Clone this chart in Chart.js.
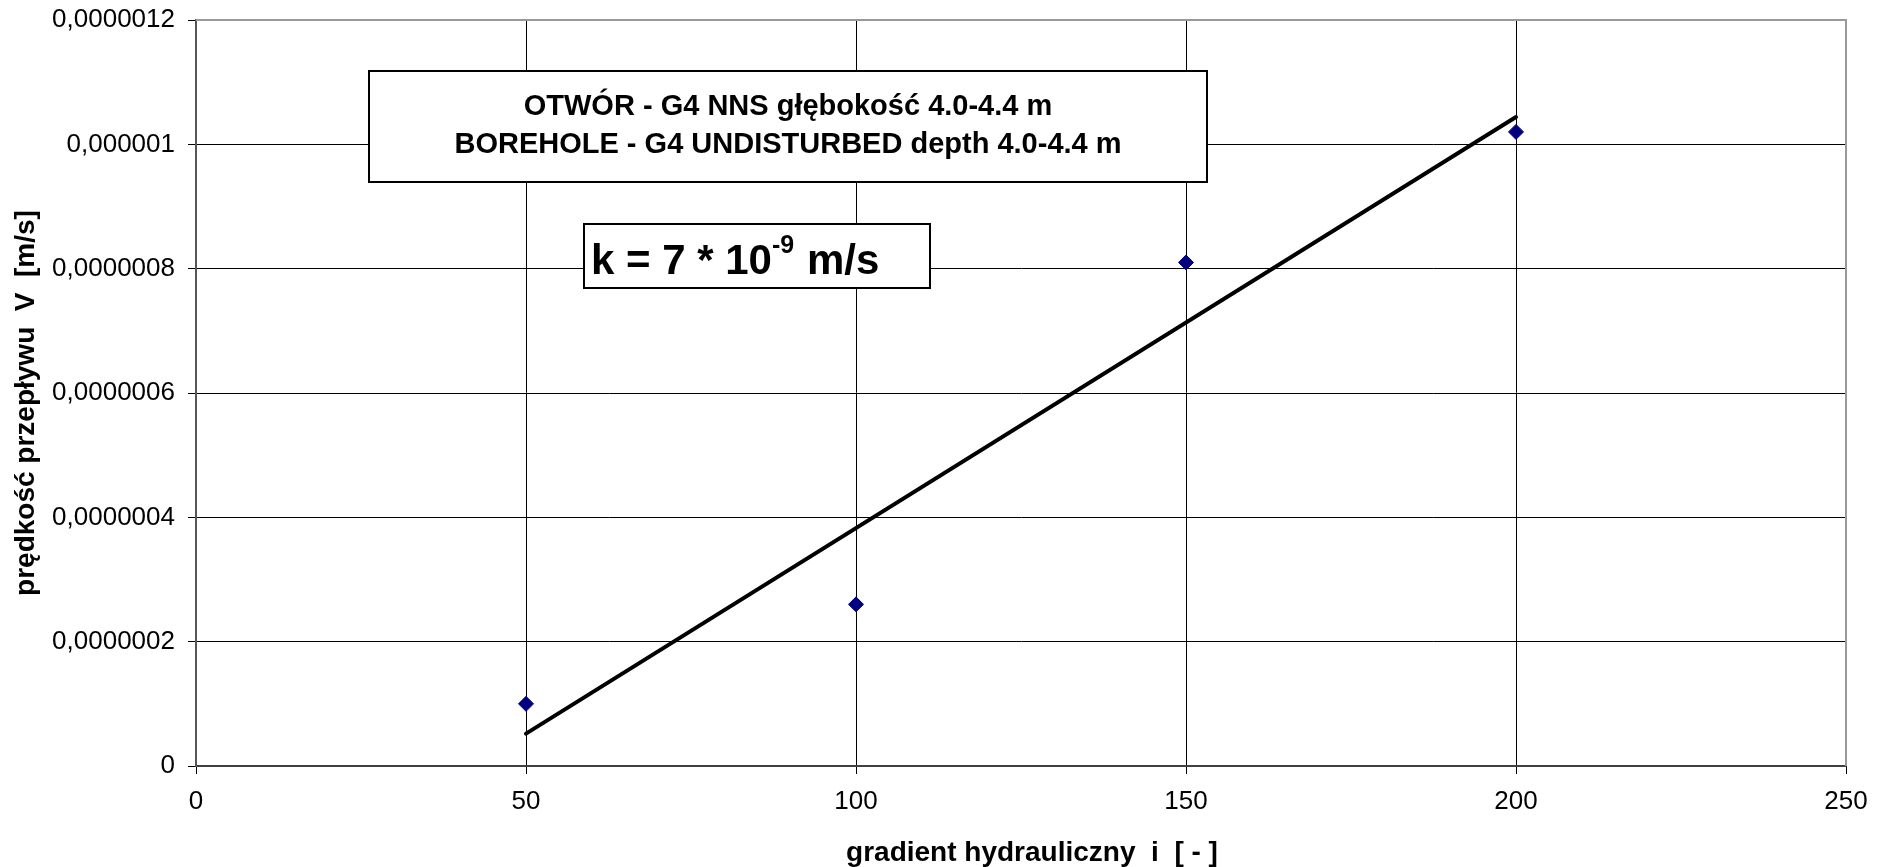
<!DOCTYPE html>
<html>
<head>
<meta charset="utf-8">
<script src="https://cdn.jsdelivr.net/npm/chart.js@4"></script>
<style>
  html, body { margin: 0; padding: 0; background: #fff; }
  canvas { display: block; }
</style>
</head>
<body>
<canvas id="wykres" width="1890" height="867"></canvas>
<script>
const gradient = [50, 100, 150, 200];
const velocity = [1.0e-7, 2.6e-7, 8.1e-7, 1.02e-6];
const trendX = [50, 200];
const trendY = [0.52e-7, 1.044e-6];

const xTitle = 'gradient hydrauliczny  i  [ - ]';
const yTitle = 'prędkość przepływu  V  [m/s]';
const boxLines = ['OTWÓR - G4 NNS głębokość 4.0-4.4 m', 'BOREHOLE - G4 UNDISTURBED depth 4.0-4.4 m'];

const font = "'Liberation Sans', Arial, sans-serif";

function pointsOf(xs, ys) {
    return xs.map((x, i) => ({ x: x, y: ys[i] }));
}

function fmtY(v) {
    const n = Math.round(v * 1e7);
    if (n === 0) return '0';
    return (n / 1e7).toFixed(7).replace(/0+$/, '').replace('.', ',');
}

const rysunki = {
    id: 'rysunki',
    afterDraw(chart) {
        const ctx = chart.ctx;
        const a = chart.chartArea;
        ctx.save();

        // top and right frame
        ctx.strokeStyle = '#999';
        ctx.lineWidth = 2;
        ctx.beginPath();
        ctx.moveTo(a.left, a.top);
        ctx.lineTo(a.right, a.top);
        ctx.lineTo(a.right, a.bottom);
        ctx.stroke();

        // axis titles
        ctx.fillStyle = '#000';
        ctx.font = 'bold 28px ' + font;
        ctx.textAlign = 'center';
        ctx.textBaseline = 'middle';
        ctx.fillText(xTitle, 1032, 853);
        ctx.save();
        ctx.translate(26, 403);
        ctx.rotate(-Math.PI / 2);
        ctx.fillText(yTitle, 0, 0);
        ctx.restore();

        // header box
        ctx.fillStyle = '#fff';
        ctx.fillRect(369, 71, 838, 111);
        ctx.strokeStyle = '#000';
        ctx.lineWidth = 2;
        ctx.strokeRect(369, 71, 838, 111);
        ctx.fillStyle = '#000';
        ctx.font = 'bold 29px ' + font;
        ctx.fillText(boxLines[0], 788, 107);
        ctx.fillText(boxLines[1], 788, 145);

        // k box
        ctx.fillStyle = '#fff';
        ctx.fillRect(584, 224, 346, 64);
        ctx.strokeRect(584, 224, 346, 64);
        ctx.fillStyle = '#000';
        ctx.textAlign = 'left';
        ctx.textBaseline = 'alphabetic';
        ctx.font = 'bold 42px ' + font;
        ctx.fillText('k = 7 * 10', 591, 274);
        ctx.font = 'bold 25px ' + font;
        ctx.fillText('-9', 772, 253);
        ctx.font = 'bold 42px ' + font;
        ctx.fillText('m/s', 807, 274);

        ctx.restore();
    }
};

new Chart('wykres', {
    type: 'scatter',
    data: {
        datasets: [{
            label: 'trend',
            data: pointsOf(trendX, trendY),
            showLine: true,
            borderColor: '#000',
            borderWidth: 4,
            pointRadius: 0,
            borderCapStyle: 'round'
        }, {
            label: 'pomiary',
            data: pointsOf(gradient, velocity),
            pointStyle: 'rectRot',
            pointRadius: 7.5,
            backgroundColor: '#000080',
            borderColor: '#000080',
            borderWidth: 1
        }]
    },
    options: {
        responsive: false,
        animation: false,
        devicePixelRatio: 1,
        layout: { padding: { left: 0, right: 44, top: 20, bottom: 0 } },
        plugins: {
            legend: { display: false },
            tooltip: { enabled: false }
        },
        scales: {
            x: {
                type: 'linear',
                min: 0,
                max: 250,
                afterFit: (s) => { s.height = 101; s.paddingLeft = 0; s.paddingRight = 0; },
                ticks: {
                    stepSize: 50,
                    color: '#000',
                    padding: 12,
                    font: { family: font, size: 26 }
                },
                grid: { color: '#000', lineWidth: 1, tickLength: 8 },
                border: { color: '#404040', width: 2 }
            },
            y: {
                min: 0,
                max: 1.2e-6,
                afterFit: (s) => { s.width = 196; s.paddingTop = 0; s.paddingBottom = 0; },
                ticks: {
                    stepSize: 2e-7,
                    color: '#000',
                    padding: 13,
                    font: { family: font, size: 26 },
                    callback: (v) => fmtY(v)
                },
                grid: { color: '#000', lineWidth: 1, tickLength: 8 },
                border: { color: '#555', width: 2 }
            }
        }
    },
    plugins: [rysunki]
});
</script>
</body>
</html>
